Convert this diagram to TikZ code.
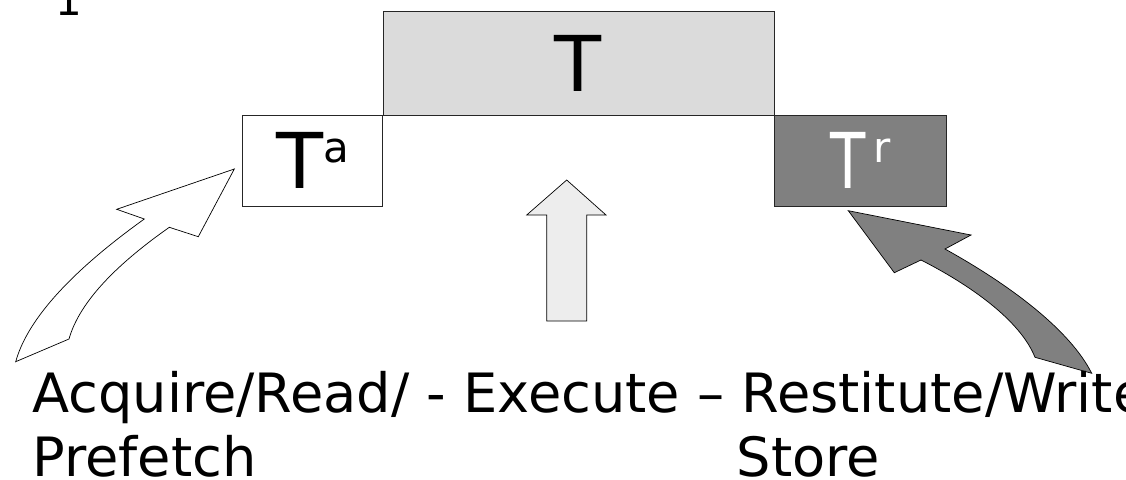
\documentclass[tikz,border=0pt]{standalone}
\usepackage{fontspec}
\setmainfont{DejaVu Sans}
\usepackage{xcolor}

% small raised index next to a big T
\newcommand{\tidx}[1]{{\fontsize{42}{42}\selectfont\raisebox{26.5pt}{#1}}}

\begin{document}
\begin{tikzpicture}[x=1pt, y=-1pt,
    blk/.style={draw=black!85, line width=0.8pt, inner sep=0pt, font=\fontsize{77}{77}\selectfont},
    lbl/.style={inner sep=0pt, anchor=base west, font=\fontsize{54.2}{63}\selectfont},
    barrow/.style={draw=black, line width=0.7pt, line join=miter}]
    \useasboundingbox (0,0) rectangle (1126,479);

    % clipped number at the top
    \node[lbl, anchor=base, font=\fontsize{42}{42}\selectfont] (num) at (69,15.7) {1};

    % the three boxes
    \node[blk, fill=black!14, minimum width=391pt, minimum height=104pt] (T) at (578.5,63) {T};
    \node[blk, fill=white, minimum width=140.5pt, minimum height=91.7pt] (Ta) at (312.5,160.9) {T\tidx{a}};
    \node[blk, fill=black!50, text=white, minimum width=172.4pt, minimum height=91.7pt] (Tr) at (860.5,160.9) {\scalebox{0.75}[1]{T}\hspace{8pt}\tidx{r}};

    % block arrows
    \draw[barrow, fill=white] (234.3,169) -- (198.3,236.7) -- (169.3,227.3)
        .. controls (120,262) and (80,300) .. (69,339) -- (15.7,361.7)
        .. controls (30,310) and (90,258) .. (144.3,219) -- (116.7,209.3) -- cycle;
    \draw[barrow, fill=black!7] (546.7,321) -- (546.7,215) -- (526.7,215) -- (566.7,180)
        -- (606,215) -- (586.7,215) -- (586.7,321) -- cycle;
    \draw[barrow, fill=black!50] (848.3,210.7) -- (971,235) -- (945,249)
        .. controls (1010,285) and (1070,330) .. (1091.7,373.3) -- (1035,357.3)
        .. controls (1020,320) and (970,285) .. (921,260) -- (894.3,272.7) -- cycle;

    % phase labels
    \node[lbl] (phases) at (32.3,412.7) {Acquire/Read/ - Execute – Restitute/Write};
    \node[lbl] (pre) at (32.3,476.8) {Prefetch};
    \node[lbl] (sto) at (736.4,476.8) {Store};
\end{tikzpicture}
\end{document}
